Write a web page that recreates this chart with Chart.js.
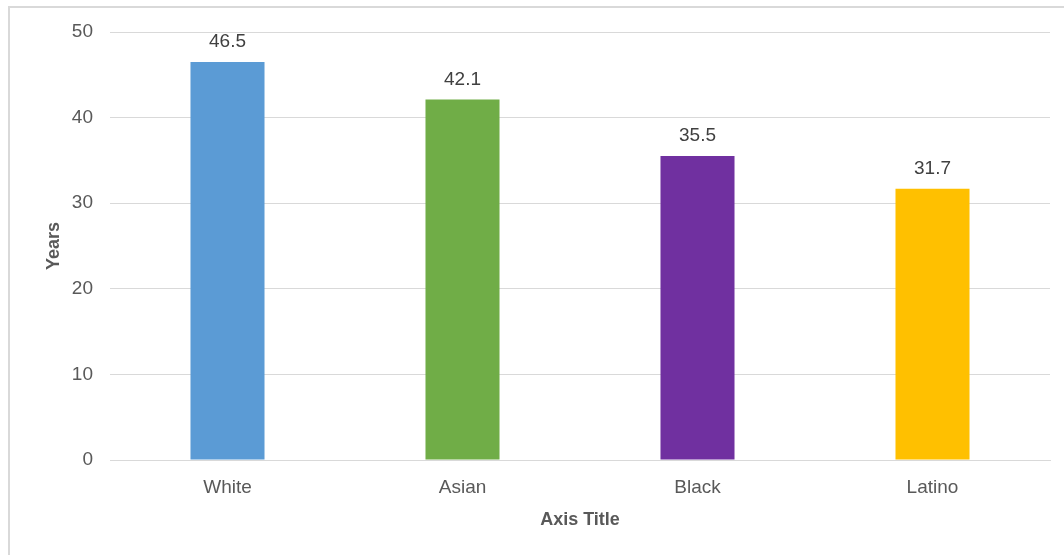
<!DOCTYPE html>
<html>
<head>
<meta charset="utf-8">
<script src="https://cdn.jsdelivr.net/npm/chart.js@4/dist/chart.umd.min.js"></script>
<style>
  html, body { margin: 0; padding: 0; background: #fff; }
  #wrap { position: relative; width: 1064px; height: 555px; }
  #frame { position: absolute; left: 8px; top: 6px; right: -2px; bottom: -2px; border: 2px solid #d9d9d9; }
  canvas { position: absolute; left: 0; top: 0; }
</style>
</head>
<body>
<div id="wrap">
  <div id="frame"></div>
  <canvas id="chart" width="1064" height="555"></canvas>
</div>
<script>
// カテゴリと値
const categories = ['White', 'Asian', 'Black', 'Latino'];
const years = [46.5, 42.1, 35.5, 31.7];
const barColors = ['#5B9BD5', '#70AD47', '#7030A0', '#FFC000'];
const yTicks = [0, 10, 20, 30, 40, 50];

const family = '"Liberation Sans", Arial, sans-serif';

// 棒の上に値を描く
const valueLabels = {
    id: 'valueLabels',
    afterDatasetsDraw(chart) {
        const ctx = chart.ctx;
        const meta = chart.getDatasetMeta(0);
        ctx.save();
        ctx.font = '19px ' + family;
        ctx.fillStyle = '#404040';
        ctx.textAlign = 'center';
        ctx.textBaseline = 'alphabetic';
        meta.data.forEach((bar, i) => {
            ctx.fillText(years[i].toFixed(1), bar.x, bar.y - 15);
        });
        ctx.restore();
    }
};

const font = { family: family, size: 19 };
const titleFont = { family: family, size: 18, weight: 'bold' };

new Chart(document.getElementById('chart'), {
    type: 'bar',
    data: {
        labels: categories,
        datasets: [{
            data: years,
            backgroundColor: barColors,
            categoryPercentage: 1,
            barPercentage: 0.315
        }]
    },
    options: {
        responsive: false,
        animation: false,
        layout: { padding: { left: 43, top: 32, right: 14, bottom: 0 } },
        plugins: {
            legend: { display: false },
            tooltip: { enabled: false }
        },
        scales: {
            x: {
                afterFit(axis) { axis.height = 95; },
                grid: { display: false },
                border: { color: '#d9d9d9', width: 1 },
                ticks: { color: '#595959', font: font, padding: 8 },
                title: {
                    display: true,
                    text: 'Axis Title',
                    color: '#595959',
                    font: titleFont,
                    padding: { top: 0, bottom: 24 }
                }
            },
            y: {
                min: 0,
                max: 50,
                afterBuildTicks(axis) { axis.ticks = yTicks.map(v => ({ value: v })); },
                afterFit(axis) { axis.width = 67; },
                grid: { color: '#d9d9d9', lineWidth: 1, drawTicks: false },
                border: { display: false },
                ticks: { color: '#595959', font: font, padding: 17 },
                title: {
                    display: true,
                    text: 'Years',
                    color: '#595959',
                    font: titleFont,
                    padding: 0
                }
            }
        }
    },
    plugins: [valueLabels]
});
</script>
</body>
</html>
